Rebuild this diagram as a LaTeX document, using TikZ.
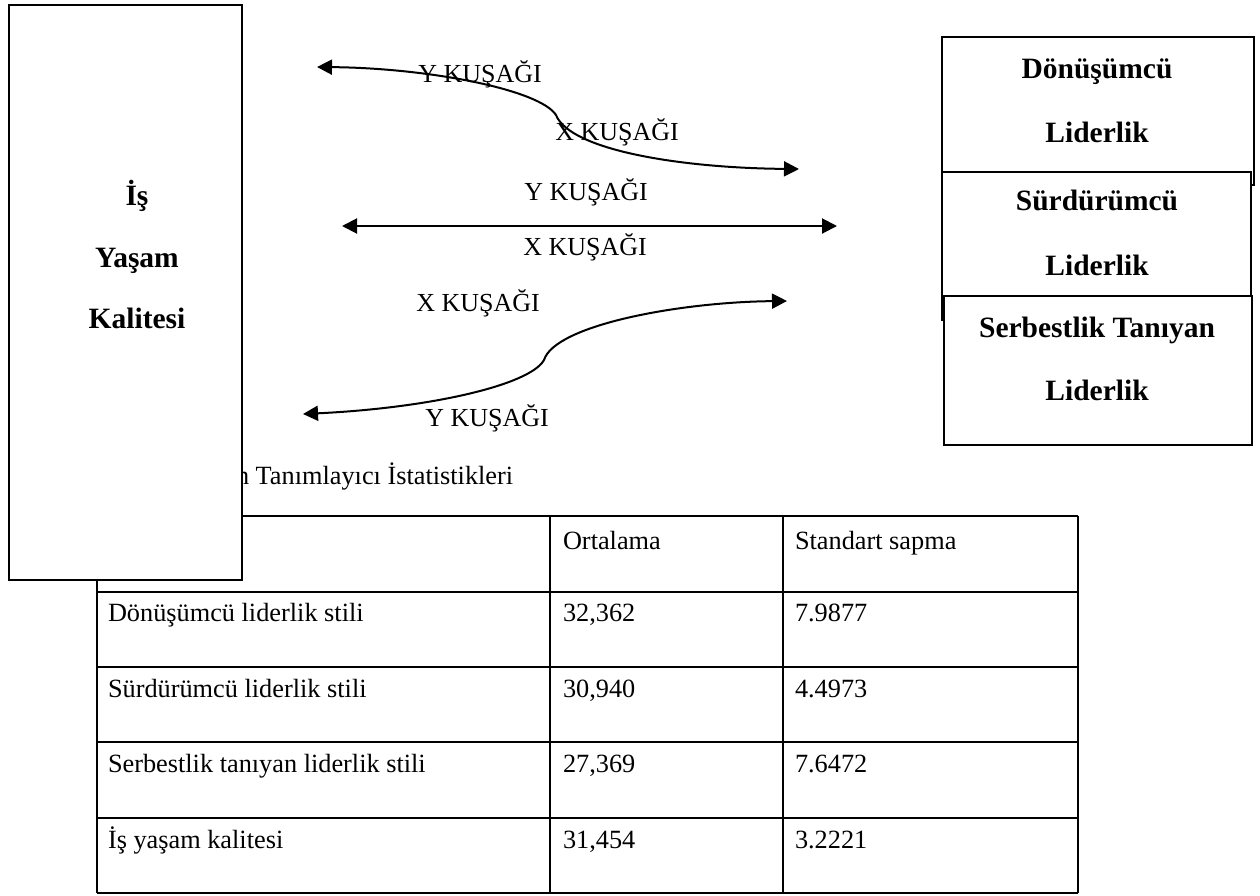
\documentclass[tikz,border=0pt]{standalone}
\usepackage{fontspec}
\setmainfont{Liberation Serif}
\usetikzlibrary{arrows.meta}
\begin{document}
\begin{tikzpicture}[x=1pt,y=-1pt,
  every node/.style={inner sep=0pt, outer sep=0pt},
  lbl/.style={font=\fontsize{26}{31}\selectfont, anchor=base},
  bld/.style={font=\fontsize{29.5}{35}\selectfont\bfseries, anchor=base},
  cell/.style={font=\fontsize{26.3}{31}\selectfont, anchor=base west},
  frame/.style={draw, line width=2.5pt, fill=white},
  tline/.style={line width=2pt},
  conn/.style={line width=2pt, {Triangle[length=15pt,width=15pt]}-{Triangle[length=15pt,width=15pt]}}]
\useasboundingbox (0,0) rectangle (1260,895);

% caption (partly hidden by the left box)
\node[cell] (cap) at (236,484) {n Tanımlayıcı İstatistikleri};

% table grid
\draw[tline] (97,516) -- (1078,516);
\foreach \yy in {592,667,742,818,893} {\draw[tline] (97,\yy) -- (1078,\yy);}
\draw[tline] (97,516) -- (97,893);
\draw[tline] (550,516) -- (550,893);
\draw[tline] (783,516) -- (783,893);
\draw[tline] (1078,516) -- (1078,893);

% table texts
\node[cell] (h1) at (563,549) {Ortalama};
\node[cell] (h2) at (795,549) {Standart sapma};
\node[cell] (r1a) at (108,621) {Dönüşümcü liderlik stili};
\node[cell] (r1b) at (563,621) {32,362};
\node[cell] (r1c) at (795,621) {7.9877};
\node[cell] (r2a) at (108,697) {Sürdürümcü liderlik stili};
\node[cell] (r2b) at (563,697) {30,940};
\node[cell] (r2c) at (795,697) {4.4973};
\node[cell] (r3a) at (108,772) {Serbestlik tanıyan liderlik stili};
\node[cell] (r3b) at (563,772) {27,369};
\node[cell] (r3c) at (795,772) {7.6472};
\node[cell] (r4a) at (108,848) {İş yaşam kalitesi};
\node[cell] (r4b) at (563,848) {31,454};
\node[cell] (r4c) at (795,848) {3.2221};

% left box
\node[frame, minimum width=233pt, minimum height=575pt] (lbox) at (125.5,292.5) {};
\node[bld] (l1) at (137,205) {İş};
\node[bld] (l2) at (137,267) {Yaşam};
\node[bld] (l3) at (137,328) {Kalitesi};

% right boxes
\node[frame, minimum width=312pt, minimum height=148pt] (b1) at (1098,111) {};
\node[frame, minimum width=309pt, minimum height=148pt] (b2) at (1096.5,246) {};
\node[frame, minimum width=308pt, minimum height=149pt] (b3) at (1098,370.5) {};
\node[bld] (t1a) at (1097,78) {Dönüşümcü};
\node[bld] (t1b) at (1097,142) {Liderlik};
\node[bld] (t2a) at (1097,210) {Sürdürümcü};
\node[bld] (t2b) at (1097,275) {Liderlik};
\node[bld] (t3a) at (1097,337) {Serbestlik Tanıyan};
\node[bld] (t3b) at (1097,400) {Liderlik};

% connectors
\coordinate (a1) at (317,67);
\coordinate (a2) at (799,169);
\coordinate (am) at (556,115);
\draw[conn] (a1) .. controls (430,68) and (540,90) .. (am) .. controls (570,150) and (680,168) .. (a2);
\coordinate (c1) at (342,226);
\coordinate (c2) at (837,226);
\draw[conn] (c1) -- (c2);
\coordinate (d1) at (303,414);
\coordinate (d2) at (787,301);
\coordinate (dm) at (544,360);
\draw[conn] (d1) .. controls (430,408) and (530,385) .. (dm) .. controls (555,325) and (680,302) .. (d2);

% arrow labels
\node[lbl] (y1) at (480,82) {Y KUŞAĞI};
\node[lbl] (x1) at (617,140) {X KUŞAĞI};
\node[lbl] (y2) at (586,200) {Y KUŞAĞI};
\node[lbl] (x2) at (585,255) {X KUŞAĞI};
\node[lbl] (x3) at (478,311) {X KUŞAĞI};
\node[lbl] (y3) at (487,426) {Y KUŞAĞI};
\end{tikzpicture}
\end{document}
